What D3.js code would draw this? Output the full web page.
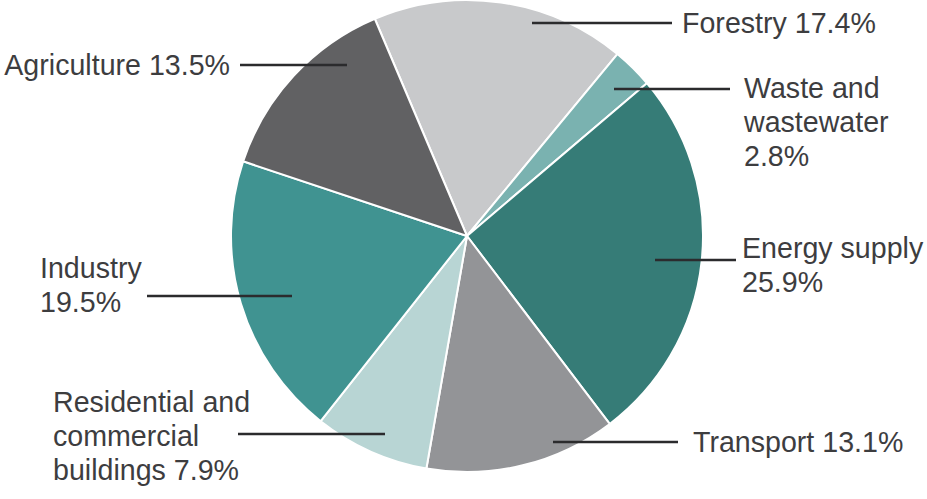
<!DOCTYPE html>
<html lang="en">
<head>
<meta charset="utf-8">
<script src="https://cdn.jsdelivr.net/npm/d3@7"></script>
<style>
  html, body { margin: 0; padding: 0; background: #fff; }
  svg { display: block; }
  .label { font-family: "Liberation Sans", Arial, sans-serif; font-size: 28.6px; fill: #3d3d3f; }
</style>
</head>
<body>
<script>
// sectors, clockwise from the top-left
const sectors = ["Forestry", "Waste and wastewater", "Energy supply", "Transport",
  "Residential and commercial buildings", "Industry", "Agriculture"];
const shares = [17.4, 2.8, 25.9, 13.1, 7.9, 19.5, 13.5];
const labelLines = [
  ["Forestry 17.4%"],
  ["Waste and", "wastewater", "2.8%"],
  ["Energy supply", "25.9%"],
  ["Transport 13.1%"],
  ["Residential and", "commercial", "buildings 7.9%"],
  ["Industry", "19.5%"],
  ["Agriculture 13.5%"]
];
const sliceColors = ["#c8c9cb", "#7ab2b0", "#367c77", "#939497", "#b8d5d4", "#409391", "#616163"];

// leader line / label layout (pixels)
const layout = [
  {y: 23,  x1: 532, x2: 672, tx: 682, ty: 33,  anchor: "start"},
  {y: 89,  x1: 614, x2: 730, tx: 744, ty: 98,  anchor: "start"},
  {y: 260, x1: 655, x2: 736, tx: 742, ty: 258, anchor: "start"},
  {y: 442, x1: 553, x2: 678, tx: 693, ty: 452, anchor: "start"},
  {y: 434, x1: 385, x2: 238, tx: 53,  ty: 412, anchor: "start"},
  {y: 296, x1: 292, x2: 147, tx: 40,  ty: 278, anchor: "start"},
  {y: 65,  x1: 347, x2: 240, tx: 230, ty: 75,  anchor: "end"}
];

const width = 927, height = 499;
const cx = 467, cy = 236, radius = 236;
const lineHeight = 34;

const svg = d3.select("body").append("svg")
  .attr("width", width)
  .attr("height", height);

const data = sectors.map((name, i) => ({name, value: shares[i], i}));

const pie = d3.pie()
  .sort(null)
  .value(d => d.value)
  .startAngle(-23 * Math.PI / 180)
  .endAngle(337 * Math.PI / 180);

const arc = d3.arc().innerRadius(0).outerRadius(radius);

const g = svg.append("g").attr("transform", `translate(${cx},${cy})`);

g.selectAll("path.slice")
  .data(pie(data))
  .join("path")
  .attr("class", "slice")
  .attr("d", arc)
  .attr("fill", d => sliceColors[d.data.i])
  .attr("stroke", "#fff")
  .attr("stroke-width", 2)
  .attr("stroke-linejoin", "round");

// leader lines
svg.append("g").selectAll("line")
  .data(layout)
  .join("line")
  .attr("x1", d => d.x1)
  .attr("x2", d => d.x2)
  .attr("y1", d => d.y)
  .attr("y2", d => d.y)
  .attr("stroke", "#2b2b2d")
  .attr("stroke-width", 2.5);

// labels
const labels = svg.append("g").selectAll("text")
  .data(layout)
  .join("text")
  .attr("class", "label")
  .attr("x", d => d.tx)
  .attr("y", d => d.ty)
  .attr("text-anchor", d => d.anchor);

labels.each(function(d, i) {
  d3.select(this).selectAll("tspan")
    .data(labelLines[i])
    .join("tspan")
    .attr("x", d.tx)
    .attr("dy", (t, j) => j === 0 ? 0 : lineHeight)
    .text(t => t);
});
</script>
</body>
</html>
